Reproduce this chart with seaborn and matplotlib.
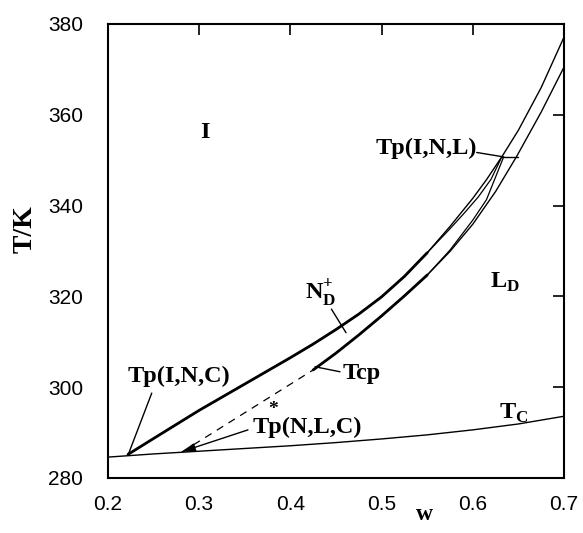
import numpy as np
import matplotlib
matplotlib.use('Agg')
import matplotlib.pyplot as plt
import seaborn as sns

# Tc curve (lowest, thin)
w_tc = [0.20, 0.25, 0.30, 0.35, 0.40, 0.45, 0.50, 0.55, 0.60, 0.65, 0.70]
T_tc = [284.6, 285.3, 285.9, 286.5, 287.1, 287.8, 288.6, 289.5, 290.6, 291.9, 293.6]

# upper outer boundary (I side)
w_up = [0.222, 0.25, 0.275, 0.30, 0.325, 0.35, 0.375, 0.40, 0.425, 0.45, 0.475,
        0.50, 0.525, 0.55, 0.575, 0.60, 0.615, 0.632, 0.65, 0.675, 0.70]
T_up = [285.2, 288.7, 291.8, 294.9, 297.8, 300.7, 303.6, 306.5, 309.5, 312.7, 316.1,
        319.9, 324.4, 329.6, 335.4, 341.6, 345.7, 350.8, 356.6, 366.0, 377.1]

# upper inner boundary (N side), ends at Tp(I,N,L)
w_up2 = [0.222, 0.25, 0.275, 0.30, 0.325, 0.35, 0.375, 0.40, 0.425, 0.45, 0.475,
         0.50, 0.525, 0.55, 0.575, 0.59, 0.606, 0.62, 0.632]
T_up2 = [285.2, 288.7, 291.8, 294.9, 297.8, 300.7, 303.6, 306.5, 309.5, 312.7, 316.1,
         319.9, 324.4, 329.6, 334.9, 338.2, 341.9, 345.8, 350.8]

# lower inner boundary (N side), from Tcp to Tp(I,N,L)
w_lo1 = [0.425, 0.45, 0.475, 0.50, 0.525, 0.55, 0.575, 0.60, 0.615, 0.634]
T_lo1 = [303.8, 307.5, 311.5, 315.7, 320.1, 324.7, 330.2, 336.8, 341.3, 350.8]

# lower outer boundary (L side)
w_lo2 = [0.425, 0.45, 0.475, 0.50, 0.525, 0.55, 0.575, 0.60, 0.625, 0.648, 0.675, 0.70]
T_lo2 = [303.8, 307.5, 311.5, 315.7, 320.1, 324.7, 329.9, 335.9, 343.1, 350.8, 360.6, 370.5]

# dashed line Tp*(N,L,C) -> Tcp
w_dash = [0.281, 0.425]
T_dash = [285.7, 303.8]

# tie line at Tp(I,N,L)
w_tie = [0.632, 0.650]
T_tie = [350.8, 350.8]

x_ticks = [0.2, 0.3, 0.4, 0.5, 0.6, 0.7]
x_labels = ['0.2', '0.3', '0.4', '0.5', '0.6', '0.7']
y_ticks = [280, 300, 320, 340, 360, 380]
y_labels = ['280', '300', '320', '340', '360', '380']

sns.set_style('white')
plt.rcParams['font.family'] = ['Liberation Sans', 'DejaVu Sans']
plt.rcParams['mathtext.fontset'] = 'custom'
plt.rcParams['mathtext.rm'] = 'Liberation Serif'
plt.rcParams['mathtext.bf'] = 'Liberation Serif:bold'

fig = plt.figure(figsize=(5.83, 5.33), dpi=100)
ax = fig.add_axes([0.1852, 0.1032, 0.7822, 0.8518])


def curve(w, T, lw=1.0, ls='-'):
    sns.lineplot(x=w, y=T, ax=ax, color='black', lw=lw, linestyle=ls,
                 sort=False, estimator=None)


curve(w_tc, T_tc, lw=1.0)
curve(w_up, T_up, lw=1.0)
curve(w_up2, T_up2, lw=0.9)
curve(w_lo1, T_lo1, lw=0.9)
curve(w_lo2, T_lo2, lw=1.0)
curve(w_dash, T_dash, lw=0.9, ls=(0, (6, 5)))
curve(w_tie, T_tie, lw=1.0)

# where the pairs overlap the line looks thick
wa, ta = np.array(w_up2), np.array(T_up2)
curve(wa[wa <= 0.55], ta[wa <= 0.55], lw=2.0)
wb, tb = np.array(w_lo1), np.array(T_lo1)
curve(wb[wb <= 0.55], tb[wb <= 0.55], lw=2.0)

serif = dict(family='Liberation Serif', weight='bold', color='black')
fs = 17.5

ax.text(0.306, 354.9, 'I', ha='center', va='baseline', fontsize=fs, **serif)
ax.text(0.222, 301.2, 'Tp(I,N,C)', ha='left', va='baseline', fontsize=fs, **serif)
ax.text(0.359, 289.9, 'Tp(N,L,C)', ha='left', va='baseline', fontsize=fs, **serif)
ax.text(0.381, 294.0, '*', ha='center', va='baseline', fontsize=14, **serif)
ax.text(0.605, 351.4, 'Tp(I,N,L)', ha='right', va='baseline', fontsize=fs, **serif)
ax.text(0.457, 301.8, 'Tcp', ha='left', va='baseline', fontsize=fs, **serif)
ax.text(0.416, 319.4, r'$\mathbf{N}_{\mathbf{D}}^{\mathbf{+}}$', ha='left', va='baseline',
        fontsize=fs, color='black')
ax.text(0.619, 321.9, r'$\mathbf{L}_{\mathbf{D}}$', ha='left', va='baseline',
        fontsize=fs, color='black')
ax.text(0.629, 293.1, r'$\mathbf{T}_{\mathbf{C}}$', ha='left', va='baseline',
        fontsize=fs, color='black')

line = dict(arrowstyle='-', color='black', lw=1.0, shrinkA=0, shrinkB=0)
ax.annotate('', xy=(0.2223, 285.2), xytext=(0.248, 298.7), arrowprops=line)
ax.annotate('', xy=(0.281, 285.8), xytext=(0.3535, 290.6),
            arrowprops=dict(arrowstyle='-|>,head_length=0.8,head_width=0.25',
                            color='black', lw=1.0, shrinkA=0, shrinkB=0))
ax.annotate('', xy=(0.427, 304.5), xytext=(0.4544, 303.4), arrowprops=line)
ax.annotate('', xy=(0.461, 312.0), xytext=(0.445, 317.2), arrowprops=line)
ax.annotate('', xy=(0.6316, 350.8), xytext=(0.6043, 351.7), arrowprops=line)

ax.set_xlim(0.2, 0.7)
ax.set_ylim(280, 380)
ax.set_xticks(x_ticks, x_labels)
ax.set_yticks(y_ticks, y_labels)
ax.tick_params(direction='in', length=8, width=1.2, top=True, right=True,
               labelsize=15, colors='black')
ax.tick_params(axis='x', pad=12)
ax.tick_params(axis='y', pad=18)
for s in ax.spines.values():
    s.set_visible(True)
    s.set_color('black')
    s.set_linewidth(1.5)

ax.set_xlabel('w', fontsize=17, **serif)
ax.xaxis.set_label_coords(0.695, -0.058)
ax.set_ylabel('T/K', fontsize=20, **serif)
ax.yaxis.set_label_coords(-0.155, 0.548)

fig.savefig('out.png', dpi=100)
